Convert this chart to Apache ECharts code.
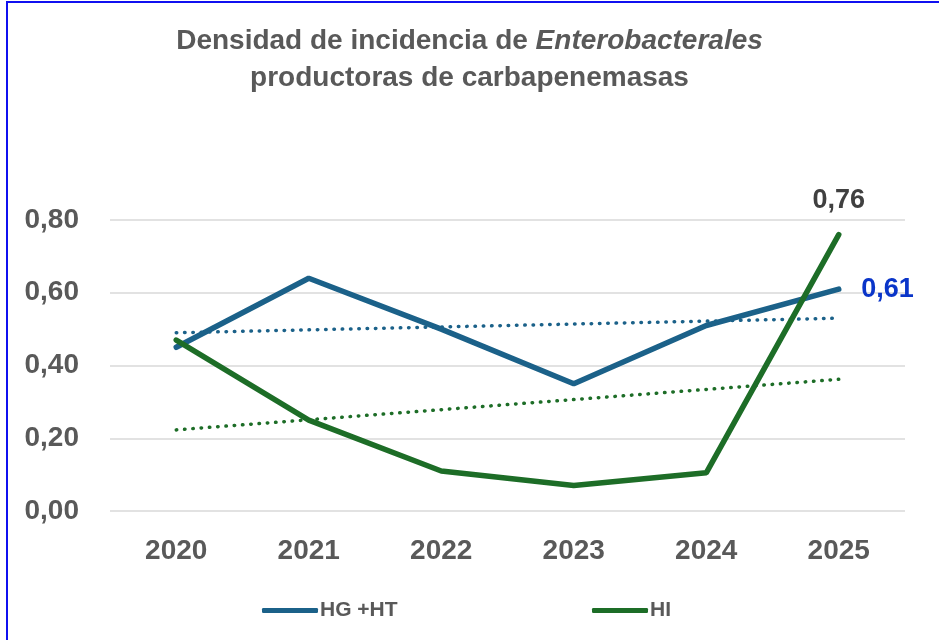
<!DOCTYPE html>
<html>
<head>
<meta charset="utf-8">
<script src="https://cdn.jsdelivr.net/npm/echarts@6/dist/echarts.min.js"></script>
<style>
  html, body { margin: 0; padding: 0; background: #ffffff; }
  #wrap { position: relative; width: 939px; height: 640px; }
  #chart { position: absolute; left: 0; top: 0; width: 939px; height: 640px; }
  #frame {
    position: absolute; left: 6px; top: 1px; width: 940px; height: 650px;
    border-left: 2px solid #1010f0; border-top: 2px solid #1010f0;
    pointer-events: none;
  }
</style>
</head>
<body>
<div id="wrap">
  <div id="chart"></div>
  <div id="frame"></div>
</div>
<script>
const years = ["2020", "2021", "2022", "2023", "2024", "2025"];
const hgHt = [0.45, 0.64, 0.50, 0.35, 0.51, 0.61];
const hi = [0.47, 0.25, 0.11, 0.07, 0.105, 0.76];
// trend line end points
const hgHtTrend = [0.49, null, null, null, null, 0.53];
const hiTrend = [0.223, null, null, null, null, 0.362];
const yTicks = [0, 0.2, 0.4, 0.6, 0.8];

const blue = "#1b6189";
const green = "#1d6d27";
const grey = "#595959";
const font = "'Liberation Sans', Arial, sans-serif";

function fmt(v) {
  return v.toFixed(2).replace(".", ",");
}

const last = years.length - 1;

function endLabel(v, pos, dist, color) {
  return {
    value: v,
    symbol: "circle",
    symbolSize: 1,
    label: {
      show: true,
      position: pos,
      distance: dist,
      formatter: (p) => fmt(p.value),
      fontFamily: font,
      fontSize: 27,
      fontWeight: "bold",
      color: color,
    },
  };
}

const legendText = { fontFamily: font, fontSize: 21, fontWeight: "bold", color: grey, padding: [0, 0, 0, -3] };

const chart = echarts.init(document.getElementById("chart"));
chart.setOption({
  animation: false,
  title: {
    text: "{n|Densidad de incidencia de }{i|Enterobacterales}\n{n|productoras de carbapenemasas}",
    left: "center",
    top: 18,
    textStyle: {
      rich: {
        n: { fontFamily: font, fontSize: 28, fontWeight: "bold", color: grey, lineHeight: 37 },
        i: { fontFamily: font, fontSize: 28, fontWeight: "bold", fontStyle: "italic", color: grey, lineHeight: 37 },
      },
    },
  },
  legend: [
    {
      data: ["HG +HT"],
      left: 257,
      top: 595,
      icon: "roundRect",
      itemWidth: 56,
      itemHeight: 5,
      textStyle: legendText,
    },
    {
      data: ["HI"],
      left: 587,
      top: 595,
      icon: "roundRect",
      itemWidth: 56,
      itemHeight: 5,
      textStyle: legendText,
    },
  ],
  grid: { left: 110, right: 34, top: 220, bottom: 129, containLabel: false },
  xAxis: {
    type: "category",
    data: years,
    boundaryGap: true,
    axisLine: { show: false },
    axisTick: { show: false },
    axisLabel: { fontFamily: font, fontSize: 28, fontWeight: "bold", color: grey, margin: 26 },
  },
  yAxis: {
    type: "value",
    min: yTicks[0],
    max: yTicks[yTicks.length - 1],
    interval: 0.2,
    axisLine: { show: false },
    axisTick: { show: false },
    axisLabel: { fontFamily: font, fontSize: 28, fontWeight: "bold", color: grey, margin: 31, formatter: fmt },
    splitLine: { lineStyle: { color: "#d9d9d9", width: 1.5 } },
  },
  series: [
    {
      name: "trend HG +HT",
      type: "line",
      data: hgHtTrend,
      connectNulls: true,
      symbol: "none",
      silent: true,
      lineStyle: { color: blue, width: 3.5, type: [0.5, 7.8], cap: "round" },
    },
    {
      name: "trend HI",
      type: "line",
      data: hiTrend,
      connectNulls: true,
      symbol: "none",
      silent: true,
      lineStyle: { color: green, width: 3.5, type: [0.5, 7.8], cap: "round" },
    },
    {
      name: "HG +HT",
      type: "line",
      data: hgHt.map((v, i) => (i === last ? endLabel(v, "right", 22, "#0a35c9") : v)),
      symbol: "none",
      itemStyle: { color: blue },
      lineStyle: { color: blue, width: 5.5, cap: "round" },
    },
    {
      name: "HI",
      type: "line",
      data: hi.map((v, i) => (i === last ? endLabel(v, "top", 20, "#404040") : v)),
      symbol: "none",
      itemStyle: { color: green },
      lineStyle: { color: green, width: 5.5, cap: "round" },
    },
  ],
});
</script>
</body>
</html>
